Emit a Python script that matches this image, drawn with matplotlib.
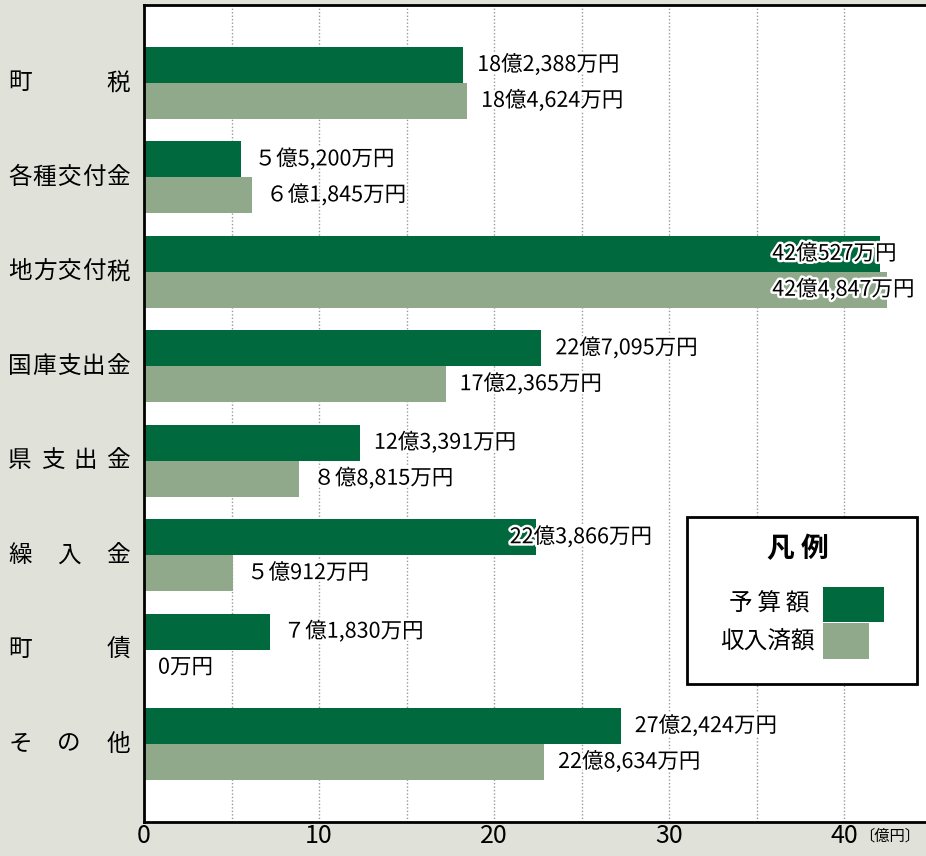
import matplotlib
matplotlib.use("Agg")
import matplotlib.pyplot as plt
import matplotlib.patheffects as pe
from matplotlib.patches import Rectangle

plt.rcParams['font.family'] = ['Noto Sans CJK JP', 'DejaVu Sans']

categories = ["町税", "各種交付金", "地方交付税", "国庫支出金", "県支出金", "繰入金", "町債", "その他"]
budget_man = [182388, 55200, 420527, 227095, 123391, 223866, 71830, 272424]   # 予算額 (万円)
actual_man = [184624, 61845, 424847, 172365, 88815, 50912, 0, 228634]       # 収入済額 (万円)
xticks = [0, 10, 20, 30, 40]
legend_title = "凡 例"
legend_labels = ["予\u2009算\u2009額", "収入済額"]
unit_label = "〔億円〕"

DARK = "#00693E"
LIGHT = "#8FA98A"
BG = "#E0E2DA"

W, H = 926, 856
fig = plt.figure(figsize=(W / 100, H / 100), dpi=100, facecolor=BG)

ax_l, ax_r, ax_t, ax_b = 144, 926, 5, 822
ax = fig.add_axes([ax_l / W, 1 - ax_b / H, (ax_r - ax_l) / W, (ax_b - ax_t) / H])
ax.set_facecolor("white")

n = len(categories)
xmax = (ax_r - ax_l) / 17.5
ax.set_xlim(0, xmax)
ax.set_ylim(n - 1 + 0.825, -0.825)

bh = 0.38
ys = list(range(n))
budget = [v / 10000 for v in budget_man]
actual = [v / 10000 for v in actual_man]
ax.barh([y - bh / 2 for y in ys], budget, height=bh, color=DARK, zorder=2)
ax.barh([y + bh / 2 for y in ys], actual, height=bh, color=LIGHT, zorder=2)

# gridlines
for g in range(5, int(xmax) + 1, 5):
    ax.axvline(g, color="#999999", lw=1.0, ls=(0, (1, 1.5)), zorder=1)

for s in ["top", "bottom", "left"]:
    ax.spines[s].set_linewidth(2)
    ax.spines[s].set_color("black")
ax.spines["right"].set_visible(False)

ax.set_yticks([])
ax.set_xticks(xticks)
ax.set_xticklabels([str(t) for t in xticks], fontsize=18)
ax.tick_params(axis="x", length=0, pad=1)
fig.text(859 / W, 1 - 836 / H, unit_label, ha="left", va="center", fontsize=11)

FW = str.maketrans("0123456789", "０１２３４５６７８９")


def fmt(v):
    oku, man = divmod(v, 10000)
    if oku:
        o = str(oku)
        if len(o) == 1:
            o = o.translate(FW)
        return f"{o}億{man:,}万円"
    return f"{man:,}万円"


override = {(2, 0): 35.9, (2, 1): 35.9, (5, 0): 20.9}
stroke = [pe.withStroke(linewidth=3.5, foreground="white")]
for i in range(n):
    for j, (vals, vm) in enumerate(((budget, budget_man), (actual, actual_man))):
        x = override.get((i, j), vals[i] + 0.8)
        y = i - bh / 2 if j == 0 else i + bh / 2
        ax.text(x, y, fmt(vm[i]), ha="left", va="center", fontsize=15.5,
                path_effects=stroke, zorder=4)

# distributed category labels
lx0, lx1 = 8, 130
for i, cat in enumerate(categories):
    ypix = ax.transData.transform((0, i))[1]
    m = len(cat)
    cw = 24
    for k, ch in enumerate(cat):
        if m == 1:
            cx = (lx0 + lx1) / 2
        else:
            cx = lx0 + cw / 2 + k * (lx1 - lx0 - cw) / (m - 1)
        fig.text(cx / W, ypix / H, ch, ha="center", va="center", fontsize=17)

# legend box
lb = Rectangle((687 / W, 1 - 684 / H), (917 - 687) / W, (684 - 517) / H,
               transform=fig.transFigure, facecolor="white", edgecolor="black",
               lw=2, zorder=5)
fig.add_artist(lb)
fig.text(798 / W, 1 - 549 / H, legend_title, ha="center", va="center",
         fontsize=20, fontweight="bold", zorder=6)
fig.text(809 / W, 1 - 604 / H, legend_labels[0], ha="right", va="center", fontsize=17, zorder=6)
fig.text(815 / W, 1 - 641 / H, legend_labels[1], ha="right", va="center", fontsize=17, zorder=6)
fig.add_artist(Rectangle((823 / W, 1 - 622 / H), 61 / W, 35 / H, transform=fig.transFigure,
                         facecolor=DARK, edgecolor="none", zorder=6))
fig.add_artist(Rectangle((823 / W, 1 - 659 / H), 46 / W, 36 / H, transform=fig.transFigure,
                         facecolor=LIGHT, edgecolor="none", zorder=6))

fig.savefig("out.png", dpi=100, facecolor=BG)
